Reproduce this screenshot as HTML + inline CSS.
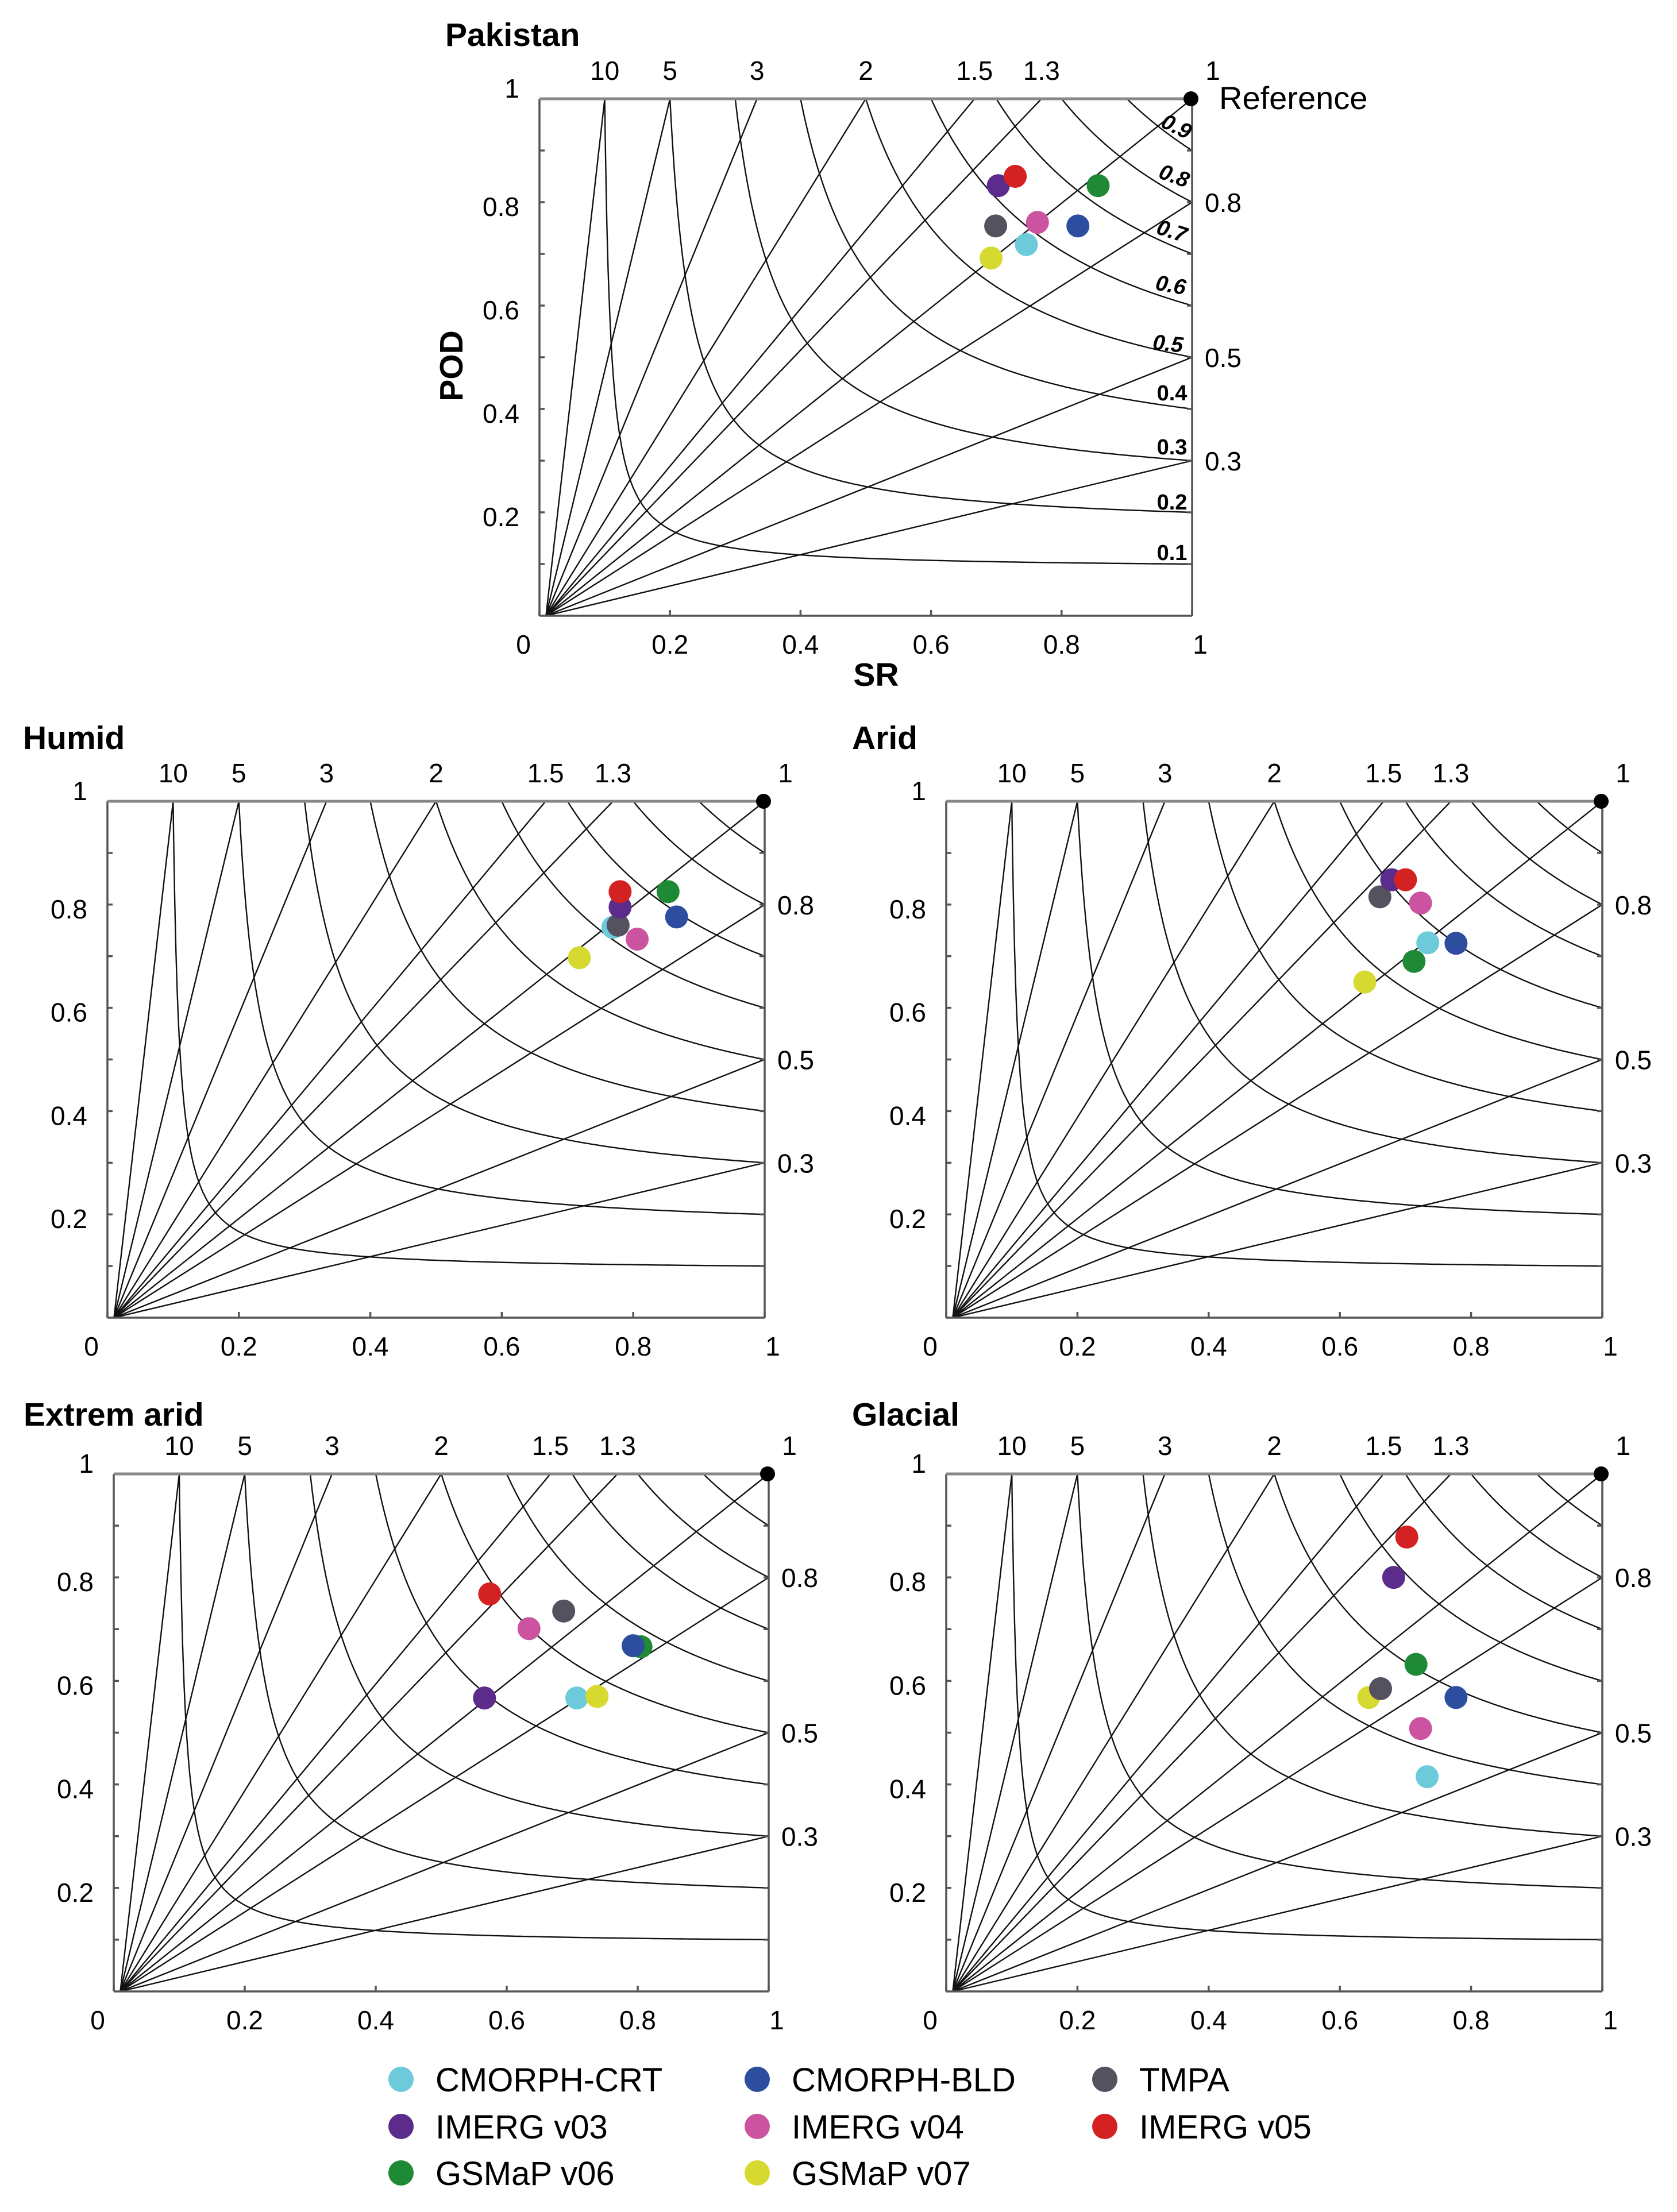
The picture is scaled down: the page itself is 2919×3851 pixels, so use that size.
<!DOCTYPE html>
<html><head><meta charset="utf-8">
<style>
html,body{margin:0;padding:0;background:#fff;}
svg{display:block;font-family:"Liberation Sans",Arial,sans-serif;}
</style></head>
<body>
<svg id="fig" width="2919" height="3851" viewBox="0 0 2919 3851" xmlns="http://www.w3.org/2000/svg"></svg>
<script>
const seriesNames = ["CMORPH-CRT","CMORPH-BLD","TMPA","IMERG v03","IMERG v04","IMERG v05","GSMaP v06","GSMaP v07"];
const seriesColors = ["#6ccadb","#2d4e9e","#54525f","#5b2c8c","#cc53a0","#d42121","#1f8a36","#d6d92f"];
const drawOrder = [0,6,1,7,4,2,3,5];
const pakistanSR  = [0.746,0.825,0.699,0.703,0.763,0.729,0.856,0.692];
const pakistanPOD = [0.718,0.754,0.754,0.832,0.761,0.850,0.832,0.692];
const humidSR  = [0.769,0.866,0.777,0.780,0.806,0.780,0.853,0.718];
const humidPOD = [0.756,0.776,0.760,0.795,0.733,0.825,0.825,0.697];
const aridSR  = [0.734,0.777,0.661,0.679,0.723,0.700,0.713,0.638];
const aridPOD = [0.726,0.725,0.815,0.848,0.803,0.848,0.690,0.650];
const extremeSR  = [0.707,0.793,0.687,0.566,0.634,0.574,0.805,0.738];
const extremePOD = [0.567,0.668,0.735,0.567,0.701,0.768,0.666,0.570];
const glacialSR  = [0.733,0.777,0.662,0.682,0.723,0.702,0.716,0.644];
const glacialPOD = [0.415,0.568,0.585,0.800,0.508,0.878,0.632,0.568];
const biasTop = [10,5,3,2,1.5,1.3];
const biasTopLabels = ["10","5","3","2","1.5","1.3"];
const biasRight = [0.8,0.5,0.3];
const biasRightLabels = ["0.8","0.5","0.3"];
const csiValues = [0.1,0.2,0.3,0.4,0.5,0.6,0.7,0.8,0.9];
const csiLabels = ["0.1","0.2","0.3","0.4","0.5","0.6","0.7","0.8","0.9"];
const xTicks = [0,0.2,0.4,0.6,0.8,1];
const xTickLabels = ["0","0.2","0.4","0.6","0.8","1"];
const yTicks = [0.2,0.4,0.6,0.8,1];
const yTickLabels = ["0.2","0.4","0.6","0.8","1"];

const NS="http://www.w3.org/2000/svg";
const svgRoot=document.getElementById('fig');
function mk(tag,attrs,parent,text){
  const e=document.createElementNS(NS,tag);
  for(const k in attrs) e.setAttribute(k,attrs[k]);
  if(text!==undefined) e.textContent=text;
  (parent||svgRoot).appendChild(e);
  return e;
}

function panel(cfg){
  const g=mk('g',{});
  
  
  const X=v=>cfg.x0+v*(cfg.x1-cfg.x0);
  const Y=v=>cfg.y1-v*(cfg.y1-cfg.y0);
  const t=mk('text',{x:cfg.tx,y:cfg.ty,'font-size':57,'font-weight':'bold'},g,cfg.title);
  
  
  const lines=mk('g',{stroke:'#111','stroke-width':2.4,fill:'none'},g);
  
  
  const ox=0.01;
  biasTop.concat([1]).forEach(b=>{
    const l=mk('line',{x1:X(ox),y1:Y(0),x2:X(1/b),y2:Y(1)},lines);
    
    
  });
  biasRight.forEach(b=>{
    const l=mk('line',{x1:X(ox),y1:Y(0),x2:X(1),y2:Y(b)},lines);
    
    
  });
  csiValues.forEach(c=>{
    let d='';
    for(let i=0;i<=200;i++){
      const sr=c+(1-c)*Math.pow(i/200,1.6);
      let pod=1/(1/c+1-1/sr);
      if(pod>1 || pod<0) pod=1;
      d+=(i?'L':'M')+X(sr).toFixed(1)+' '+Y(pod).toFixed(1);
    }
    const p=mk('path',{d:d},lines);
    
    
  });
  const fr=mk('g',{stroke:'#555','stroke-width':3.5,fill:'none'},g);
  
  
  mk('line',{x1:cfg.x0,y1:cfg.y0,x2:cfg.x0,y2:cfg.y1},fr);
  mk('line',{x1:cfg.x0,y1:cfg.y1,x2:cfg.x1,y2:cfg.y1},fr);
  mk('line',{x1:cfg.x1,y1:cfg.y0,x2:cfg.x1,y2:cfg.y1},fr);
  mk('line',{x1:cfg.x0,y1:cfg.y0,x2:cfg.x1,y2:cfg.y0,stroke:'#888','stroke-width':5},fr);
  for(let i=1;i<10;i++){
    mk('line',{x1:cfg.x0,y1:Y(i/10),x2:cfg.x0+9,y2:Y(i/10)},fr);
    mk('line',{x1:cfg.x1,y1:Y(i/10),x2:cfg.x1-9,y2:Y(i/10)},fr);
  }
  xTicks.forEach(v=>mk('line',{x1:X(v),y1:cfg.y1,x2:X(v),y2:cfg.y1-10},fr));
  const fs=46;
  xTicks.forEach((v,i)=>{
    let xx=X(v);
    if(v===0) xx=cfg.x0-28;
    if(v===1) xx=cfg.x1+14;
    const e=mk('text',{x:xx,y:cfg.y1+66,'font-size':fs,'text-anchor':'middle'},g,xTickLabels[i]);
    
    
  });
  yTicks.forEach((v,i)=>{
    const yy=v===1?Y(v)-2:Y(v)+24;
    const e=mk('text',{x:cfg.x0-35,y:yy,'font-size':fs,'text-anchor':'end'},g,yTickLabels[i]);
    
    
  });
  biasTop.forEach((b,i)=>{
    const e=mk('text',{x:X(1/b),y:cfg.y0-33,'font-size':fs,'text-anchor':'middle'},g,biasTopLabels[i]);
    
    
  });
  const e1=mk('text',{x:cfg.x1+36,y:cfg.y0-33,'font-size':fs,'text-anchor':'middle'},g,'1');
  
  
  biasRight.forEach((b,i)=>{
    const e=mk('text',{x:cfg.x1+22,y:Y(b)+17,'font-size':fs},g,biasRightLabels[i]);
    
    
  });
  const rd=mk('circle',{cx:cfg.x1-2,cy:cfg.y0,r:13,fill:'#000'},g);
  
  
  drawOrder.forEach(k=>{
    const c=mk('ellipse',{cx:X(cfg.sr[k]),cy:Y(cfg.pod[k]),rx:20,ry:20,fill:seriesColors[k]},g);
    
    
  });
  return {X:X,Y:Y,g:g};
}

const pakPanel=panel({id:'pakistan',title:'Pakistan',tx:775,ty:80,x0:939,x1:2075,y0:172,y1:1072,sr:pakistanSR,pod:pakistanPOD});
panel({id:'humid',title:'Humid',tx:40,ty:1304,x0:187,x1:1331,y0:1395,y1:2294,sr:humidSR,pod:humidPOD});
panel({id:'arid',title:'Arid',tx:1483,ty:1304,x0:1647,x1:2789,y0:1395,y1:2294,sr:aridSR,pod:aridPOD});
panel({id:'extreme-arid',title:'Extrem arid',tx:41,ty:2482,x0:198,x1:1338,y0:2566,y1:3467,sr:extremeSR,pod:extremePOD});
panel({id:'glacial',title:'Glacial',tx:1483,ty:2482,x0:1647,x1:2789,y0:2566,y1:3467,sr:glacialSR,pod:glacialPOD});

const csiPos=[[2040,962,0],[2040,874,0],[2040,778,0],[2040,684,0],[2033,598,6],[2038,496,10],[2040,402,18],[2044,306,20],[2048,220,26]];
csiLabels.forEach((s,i)=>{
  const p=csiPos[i];
  const e=mk('text',{x:p[0],y:p[1]+13,'font-size':38,'font-weight':'bold','font-style':i>=4?'italic':'normal','text-anchor':'middle',transform:'rotate('+p[2]+' '+p[0]+' '+p[1]+')'},pakPanel.g,s);
  
  
});
const refLabel=mk('text',{x:2122,y:190,'font-size':56},pakPanel.g,'Reference');


const podTitle=mk('text',{x:805,y:637,'font-size':57,'font-weight':'bold','text-anchor':'middle',transform:'rotate(-90 805 637)'},pakPanel.g,'POD');


const srTitle=mk('text',{x:1525,y:1194,'font-size':57,'font-weight':'bold','text-anchor':'middle'},pakPanel.g,'SR');



const lg=mk('g',{});


const colX=[698,1318,1923], rowY=[3620,3702,3783];
seriesNames.forEach((n,i)=>{
  const cx=colX[i%3], cy=rowY[Math.floor(i/3)];
  const it=mk('g',{},lg);
  
  
  mk('ellipse',{cx:cx,cy:cy,rx:22,ry:22,fill:seriesColors[i]},it);
  mk('text',{x:cx+60,y:cy+21,'font-size':58},it,n);
});
</script>
</body></html>
